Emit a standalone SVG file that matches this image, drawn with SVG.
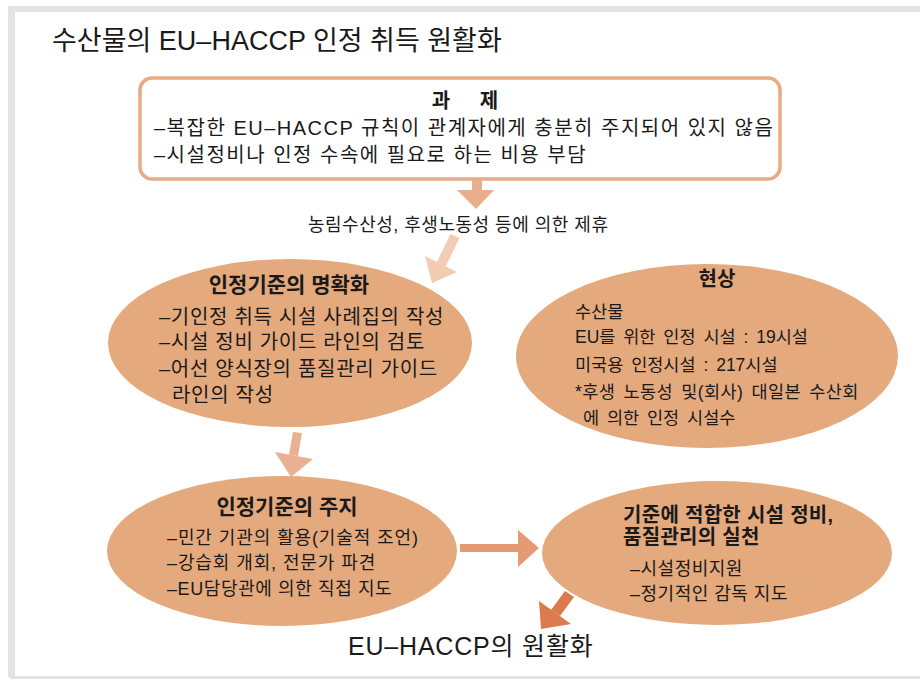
<svg xmlns="http://www.w3.org/2000/svg" width="920" height="679" viewBox="0 0 920 679">
<style>
text{font-family:"Liberation Sans","Noto Sans CJK KR",sans-serif;fill:#1a1a1a}
.t{font-size:27px}
.b{font-weight:bold}
.e{fill:#e4a97d}
.s20{font-size:20px}
.s18{font-size:18px}
.s17{font-size:17.5px;word-spacing:3px}
</style>
<rect width="920" height="679" fill="#ffffff"/>
<g id="frame" fill="#e3e3e3">
<rect x="8" y="6" width="912" height="6"/>
<rect x="8" y="6" width="7" height="671"/>
<rect x="10" y="676" width="910" height="3"/>
</g>
<text id="title" class="t" x="52" y="50">수산물의 EU–HACCP 인정 취득 원활화</text>

<g id="connectors">
<g id="a1" fill="#e9ae8c">
<rect x="472" y="178" width="10" height="13"/>
<polygon points="457,190 494,190 476,209"/>
</g>
<text id="cooperation" class="s18" x="308" y="231" style="letter-spacing:0.5px">농림수산성, 후생노동성 등에 의한 제휴</text>
<g id="a2" fill="#f3cdb3">
<polygon points="450.5,234 459.5,238 445.5,267 436.5,263"/>
<polygon points="425,256 457,272 432,283"/>
</g>
<g id="a3" fill="#eab092">
<polygon points="293,432 302,433 298,456 289,455"/>
<polygon points="275,452 313,459 291,477"/>
</g>
<g id="a4" fill="#e49a73">
<rect x="460" y="544" width="60" height="8"/>
<polygon points="518,530 539,548 518,567"/>
</g>
<g id="a5" fill="#db7a4e">
<polygon points="565,591 574,597 560,616 551,610"/>
<polygon points="539,601 571,624 541,629"/>
</g>
</g>

<g id="task">
<rect x="140" y="78" width="640" height="101" rx="12" fill="#ffffff" stroke="#e8ab84" stroke-width="3.5"/>
<text class="s20 b" x="471" y="108" text-anchor="middle" style="letter-spacing:12px">과 제</text>
<text class="s20" x="154" y="135" style="letter-spacing:1.5px">–복잡한 EU–HACCP 규칙이 관계자에게 충분히 주지되어 있지 않음</text>
<text class="s20" x="154" y="162" style="letter-spacing:1.5px">–시설정비나 인정 수속에 필요로 하는 비용 부담</text>
</g>

<g id="clarify">
<ellipse class="e" cx="290" cy="343" rx="182" ry="84"/>
<text class="b" x="289" y="292" text-anchor="middle" style="font-size:21px">인정기준의 명확화</text>
<text class="s20" x="159" y="324" style="letter-spacing:0.7px">–기인정 취득 시설 사례집의 작성</text>
<text class="s20" x="159" y="349" style="letter-spacing:0.7px">–시설 정비 가이드 라인의 검토</text>
<text class="s20" x="159" y="376" style="letter-spacing:0.7px">–어선 양식장의 품질관리 가이드</text>
<text class="s20" x="172" y="402" style="letter-spacing:0.7px">라인의 작성</text>
</g>

<g id="status">
<ellipse class="e" cx="707" cy="356" rx="191" ry="92"/>
<text class="s20 b" x="717" y="286" text-anchor="middle">현상</text>
<text class="s17" x="575" y="318">수산물</text>
<text class="s17" x="575" y="343">EU를 위한 인정 시설 : 19시설</text>
<text class="s17" x="575" y="371">미국용 인정시설 : 217시설</text>
<text class="s17" x="575" y="398" style="letter-spacing:0.4px">*후생 노동성 및(회사) 대일본 수산회</text>
<text class="s17" x="583" y="424">에 의한 인정 시설수</text>
</g>

<g id="inform">
<ellipse class="e" cx="282" cy="551" rx="175" ry="75"/>
<text class="b" x="287" y="514" text-anchor="middle" style="font-size:21px">인정기준의 주지</text>
<text class="s18" x="167" y="544" style="letter-spacing:0.9px">–민간 기관의 활용(기술적 조언)</text>
<text class="s18" x="167" y="569" style="letter-spacing:0.9px">–강습회 개회, 전문가 파견</text>
<text class="s18" x="167" y="595" style="letter-spacing:0.6px">–EU담당관에 의한 직접 지도</text>
</g>

<g id="practice">
<ellipse class="e" cx="717" cy="553" rx="175" ry="72"/>
<text class="b" x="623" y="522" style="font-size:20px;letter-spacing:0.3px">기준에 적합한 시설 정비,</text>
<text class="b" x="623" y="544" style="font-size:20px;letter-spacing:0.3px">품질관리의 실천</text>
<text class="s18" x="630" y="575" style="letter-spacing:0.5px">–시설정비지원</text>
<text class="s18" x="630" y="600" style="letter-spacing:0.5px">–정기적인 감독 지도</text>
</g>

<text id="result" x="348" y="655" style="font-size:25px;letter-spacing:0.8px">EU–HACCP의 원활화</text>
</svg>
